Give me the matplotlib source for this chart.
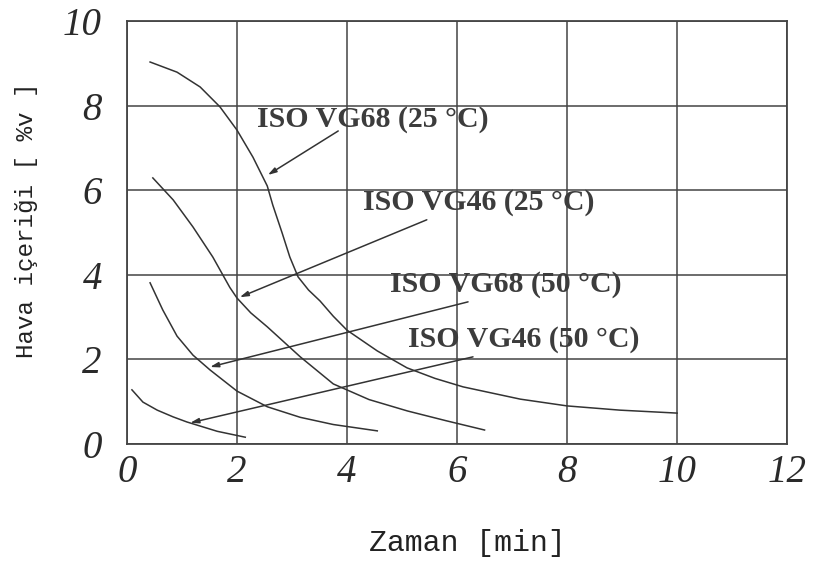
import matplotlib
matplotlib.use('Agg')
import matplotlib.pyplot as plt

# datos (x = zaman [min], y = hava icerigi [%v])
vg68_25_x = [0.42, 0.91, 1.33, 1.69, 2.0, 2.29, 2.55, 2.65, 2.82, 2.96, 3.11, 3.3, 3.51, 3.75, 4.0, 4.55, 5.09, 5.6, 6.11, 7.15, 8.0, 8.96, 10.0]
vg68_25_y = [9.03, 8.79, 8.44, 7.97, 7.42, 6.78, 6.10, 5.65, 4.99, 4.42, 3.95, 3.64, 3.38, 3.02, 2.69, 2.20, 1.80, 1.55, 1.35, 1.06, 0.90, 0.80, 0.73]

vg46_25_x = [0.47, 0.84, 1.2, 1.56, 1.87, 2.0, 2.25, 2.55, 3.15, 3.75, 4.4, 5.1, 5.8, 6.5]
vg46_25_y = [6.29, 5.77, 5.13, 4.42, 3.70, 3.45, 3.10, 2.77, 2.06, 1.42, 1.05, 0.78, 0.55, 0.33]

vg68_50_x = [0.42, 0.65, 0.91, 1.2, 1.51, 2.0, 2.55, 3.15, 3.75, 4.55]
vg68_50_y = [3.81, 3.17, 2.55, 2.10, 1.75, 1.25, 0.88, 0.63, 0.46, 0.31]

vg46_50_x = [0.09, 0.29, 0.55, 0.84, 1.09, 1.64, 2.15]
vg46_50_y = [1.28, 0.99, 0.80, 0.64, 0.52, 0.30, 0.16]

etiquetas = ['ISO VG68 (25 °C)', 'ISO VG46 (25 °C)', 'ISO VG68 (50 °C)', 'ISO VG46 (50 °C)']
pos_texto = [(2.36, 7.66), (4.29, 5.70), (4.78, 3.78), (5.11, 2.48)]
flecha_inicio = [(3.84, 7.40), (5.45, 5.30), (6.2, 3.36), (6.29, 2.06)]
flecha_fin = [(2.56, 6.36), (2.05, 3.47), (1.51, 1.82), (1.15, 0.50)]

x_ticks = [0, 2, 4, 6, 8, 10, 12]
y_ticks = [0, 2, 4, 6, 8, 10]

color = '#333333'

fig = plt.figure(figsize=(8.15, 5.64), dpi=100)
ax = fig.add_axes([0.1558, 0.2128, 0.81, 0.75])

for xs, ys in [(vg68_25_x, vg68_25_y), (vg46_25_x, vg46_25_y),
               (vg68_50_x, vg68_50_y), (vg46_50_x, vg46_50_y)]:
    ax.plot(xs, ys, color=color, linewidth=1.1)

for texto, (tx, ty), ini, fin in zip(etiquetas, pos_texto, flecha_inicio, flecha_fin):
    ax.text(tx, ty, texto, family=['Liberation Serif', 'DejaVu Serif'], fontsize=21.5,
            fontweight='bold', color='#3c3c3c', ha='left', va='center')
    ax.annotate('', xy=fin, xytext=ini,
                arrowprops=dict(arrowstyle='-|>,head_length=0.5,head_width=0.15',
                                color=color, linewidth=1.1, shrinkA=0, shrinkB=0))

ax.set_xlim(0, 12)
ax.set_ylim(0, 10)
ax.set_xticks(x_ticks)
ax.set_yticks(y_ticks)
ax.set_xticklabels([str(v) for v in x_ticks], family='Liberation Serif', style='italic',
                   fontsize=28, color='#2a2a2a')
ax.set_yticklabels([str(v) for v in y_ticks], family='Liberation Serif', style='italic',
                   fontsize=28, color='#2a2a2a')
ax.tick_params(axis='both', length=0)
ax.tick_params(axis='x', pad=7)
ax.tick_params(axis='y', pad=18)

ax.grid(True, color='#444444', linewidth=1.1)
for s in ax.spines.values():
    s.set_color('#444444')
    s.set_linewidth(1.3)

ax.set_xlabel('Zaman [min]', family='Liberation Mono', fontsize=21.5, color='#222222')
ax.set_ylabel('Hava içeriği [ %v ]', family='Liberation Mono', fontsize=17.5, color='#222222')
# posiciones de las etiquetas en fraccion de ejes
ax.xaxis.set_label_coords(0.515, -0.2)
ax.yaxis.set_label_coords(-0.135, 0.53)

fig.savefig('out.png', dpi=100)
